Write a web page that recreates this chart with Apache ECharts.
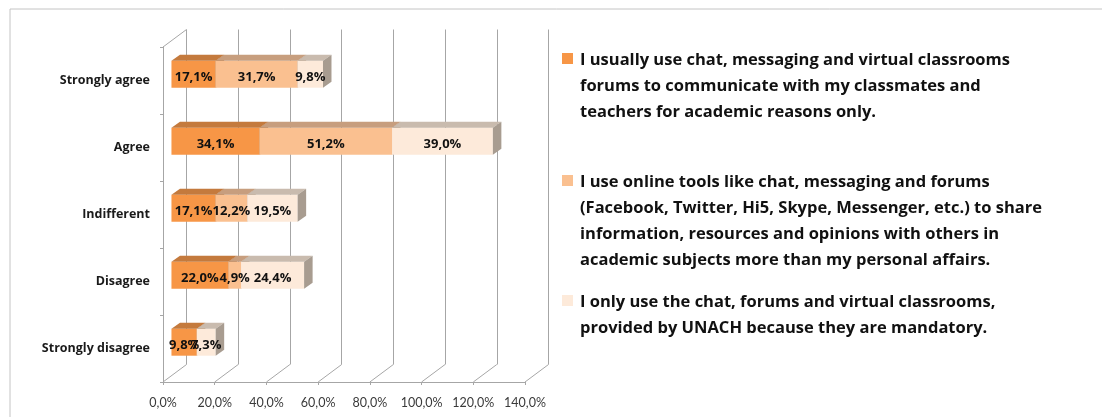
<!doctype html>
<html>

<head>
    <meta charset="utf-8">
    <title>Use of online tools</title>
    <script src="https://cdn.jsdelivr.net/npm/echarts@6/dist/echarts.min.js"></script>
    <style>
        body { margin: 0; background: #fff; }
    </style>
</head>

<body>
    <div id="container" style="width:1102px;height:417px;"></div>

    <script type="text/javascript">
        // categories, top to bottom
        var categories = ['Strongly agree', 'Agree', 'Indifferent', 'Disagree', 'Strongly disagree'];
        // legend texts (line breaks as in the picture)
        var seriesNames = [
            'I usually use chat, messaging and virtual classrooms\nforums to communicate with my classmates and\nteachers for academic reasons only.',
            'I use online tools like chat, messaging and forums\n(Facebook, Twitter, Hi5, Skype, Messenger, etc.) to share\ninformation, resources and opinions with others in\nacademic subjects more than my personal affairs.',
            'I only use the chat, forums and virtual classrooms,\nprovided by UNACH because they are mandatory.'
        ];
        // percentages per category
        var usualChat = [17.1, 34.1, 17.1, 22.0, 9.8];
        var onlineTools = [31.7, 51.2, 12.2, 4.9, 0];
        var onlyMandatory = [9.8, 39.0, 19.5, 24.4, 7.3];
        // x axis ticks
        var xTicks = [0, 20, 40, 60, 80, 100, 120, 140];

        var seriesValues = [usualChat, onlineTools, onlyMandatory];
        var frontColors = ['#F79646', '#FAC090', '#FDEADA'];
        var topColors = ['#C47A3D', '#C79E7E', '#C9BBAE'];
        var sideColors = ['#B06A2E', '#B58F72', '#A89C90'];

        // depth of the 3d box and of the bars
        var DX = 23.5, DY = -17.5;
        var BAR_DX = 8.5, BAR_DY = -6;
        var BAR_H = 27;

        function pct(v) {
            return v.toFixed(1).replace('.', ',') + '%';
        }

        // stacked bars drawn as little boxes
        function barRender(si) {
            return function (params, api) {
                var cat = api.value(0);
                var base = api.value(1);
                var val = api.value(2);
                if (!val) return;
                var p0 = api.coord([base, cat]);
                var p1 = api.coord([base + val, cat]);
                var x0 = p0[0] + 0.36 * DX, x1 = p1[0] + 0.36 * DX;
                var cy = p0[1] + 0.36 * DY;
                var yt = cy - BAR_H / 2, yb = cy + BAR_H / 2;
                return {
                    type: 'group',
                    children: [{
                        type: 'rect',
                        shape: { x: x0, y: yt, width: x1 - x0, height: BAR_H },
                        style: { fill: frontColors[si] },
                        z2: 1
                    }, {
                        type: 'polygon',
                        shape: { points: [[x0, yt], [x1, yt], [x1 + BAR_DX, yt + BAR_DY], [x0 + BAR_DX, yt + BAR_DY]] },
                        style: { fill: topColors[si] },
                        z2: 1
                    }, {
                        type: 'polygon',
                        shape: { points: [[x1, yt], [x1 + BAR_DX, yt + BAR_DY], [x1 + BAR_DX, yb + BAR_DY], [x1, yb]] },
                        style: { fill: sideColors[si] },
                        z2: 1
                    }, {
                        type: 'text',
                        style: {
                            x: (x0 + x1) / 2,
                            y: cy + 3,
                            text: pct(val),
                            align: 'center',
                            verticalAlign: 'middle',
                            fill: '#111',
                            font: 'bold 13px "Open Sans"'
                        },
                        z2: 100
                    }]
                };
            };
        }

        var series = [];
        // floor diagonals and the top-left edge of the box
        series.push({
            type: 'custom',
            xAxisIndex: 0,
            yAxisIndex: 0,
            silent: true,
            data: xTicks.map(function (t) { return [t, 0]; }).concat([[-1, 0]]),
            renderItem: function (params, api) {
                var cs = params.coordSys;
                var t = api.value(0);
                var x, y;
                if (t < 0) {
                    x = cs.x; y = cs.y;
                } else {
                    x = api.coord([t, 0])[0]; y = cs.y + cs.height;
                }
                return {
                    type: 'line',
                    shape: { x1: x, y1: y, x2: x + DX, y2: y + DY },
                    style: { stroke: '#A6A6A6', lineWidth: 1 }
                };
            },
            z: 1
        });

        seriesValues.forEach(function (vals, si) {
            var data = vals.map(function (v, ci) {
                var base = 0;
                for (var k = 0; k < si; k++) base += seriesValues[k][ci];
                return [ci, base, v];
            });
            series.push({
                name: seriesNames[si],
                type: 'custom',
                xAxisIndex: 0,
                yAxisIndex: 0,
                encode: { x: 1, y: 0 },
                data: data,
                renderItem: barRender(si),
                z: 3
            });
        });

        // legend drawn as graphic so each entry can wrap
        var graphics = [{
            type: 'rect',
            left: 7.5,
            top: 6.5,
            shape: { x: 0, y: 0, width: 1200, height: 500 },
            style: { fill: null, stroke: '#C4C4C4', lineWidth: 1 },
            z: -10,
            silent: true
        }];
        var legendTops = [53, 175, 295];
        seriesNames.forEach(function (name, i) {
            graphics.push({
                type: 'rect',
                shape: { x: 562, y: legendTops[i], width: 11, height: 11 },
                style: { fill: frontColors[i] }
            });
            graphics.push({
                type: 'text',
                x: 580,
                y: legendTops[i] - 5.5,
                style: {
                    text: name,
                    font: 'bold 16.5px "Open Sans"',
                    lineHeight: 26,
                    fill: '#111',
                    align: 'left',
                    verticalAlign: 'top'
                }
            });
        });

        var option = {
            animation: false,
            grid: [
                { left: 163, top: 47, width: 362, height: 335 },
                { left: 163 + DX, top: 47 + DY, width: 362, height: 335 }
            ],
            xAxis: [{
                type: 'value',
                gridIndex: 0,
                min: 0,
                max: 140,
                interval: 20,
                axisLine: { show: true, lineStyle: { color: '#A6A6A6' } },
                axisTick: { show: true, length: 3, lineStyle: { color: '#A6A6A6' } },
                splitLine: { show: false },
                axisLabel: {
                    formatter: pct,
                    margin: 14,
                    color: '#3a3a3a',
                    fontFamily: 'Lato',
                    fontSize: 12.5
                }
            }, {
                type: 'value',
                gridIndex: 1,
                min: 0,
                max: 140,
                interval: 20,
                axisLine: { show: false },
                axisTick: { show: false },
                axisLabel: { show: false },
                splitLine: { show: true, lineStyle: { color: '#A6A6A6', width: 1 } }
            }],
            yAxis: [{
                type: 'category',
                gridIndex: 0,
                inverse: true,
                data: categories,
                axisLine: { show: true, lineStyle: { color: '#A6A6A6' } },
                axisTick: { show: true, length: 3, lineStyle: { color: '#A6A6A6' } },
                axisLabel: {
                    margin: 13,
                    color: '#1a1a1a',
                    fontFamily: 'Open Sans',
                    fontWeight: 'bold',
                    fontSize: 12.5
                }
            }, {
                type: 'category',
                gridIndex: 1,
                inverse: true,
                data: categories,
                show: false
            }],
            graphic: graphics,
            series: series
        };

        var myChart = echarts.init(document.getElementById('container'));
        myChart.setOption(option);
    </script>
</body>

</html>
